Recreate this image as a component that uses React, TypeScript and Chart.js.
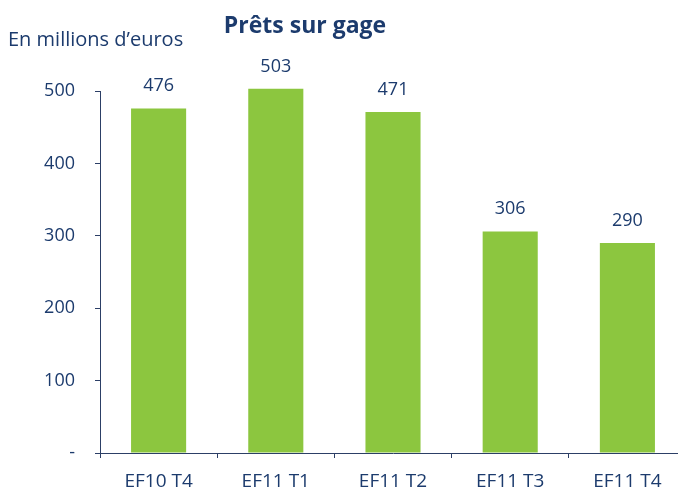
import React, { useEffect, useRef } from "react";
import { Chart, registerables } from "chart.js";

Chart.register(...registerables);

const categories = ["EF10 T4", "EF11 T1", "EF11 T2", "EF11 T3", "EF11 T4"];
const values = [476, 503, 471, 306, 290];
const yTicks = [0, 100, 200, 300, 400, 500];
const titleText = "Prêts sur gage";
const unitText = "En millions d\u2019euros";

const TEXT = "#1c3b6d";
const AXIS = "#2c3f66";
const GREEN = "#8cc63f";
const FONT = "'Open Sans', sans-serif";

export default function App() {
  const ref = useRef<HTMLCanvasElement | null>(null);
  useEffect(() => {
    if (!ref.current) return;
    const labelsPlugin = {
      id: "labelsPlugin",
      afterDraw(chart: any) {
        const ctx = chart.ctx;
        ctx.save();
        ctx.fillStyle = TEXT;
        ctx.textAlign = "center";
        ctx.textBaseline = "alphabetic";
        ctx.font = `18px ${FONT}`;
        const meta = chart.getDatasetMeta(0);
        meta.data.forEach((bar: any, i: number) => {
          ctx.fillText(String(values[i]), bar.x, bar.y - 17);
        });
        ctx.font = `bold 23px ${FONT}`;
        ctx.fillText(titleText, 305, 33);
        ctx.textAlign = "left";
        ctx.font = `20px ${FONT}`;
        ctx.fillText(unitText, 8, 46);
        ctx.restore();
      },
    };
    const chart = new Chart(ref.current, {
      type: "bar",
      data: {
        labels: categories,
        datasets: [
          {
            data: values,
            backgroundColor: GREEN,
            borderWidth: 0,
            barPercentage: 0.47,
            categoryPercentage: 1,
            clip: false as any,
          },
        ],
      },
      options: {
        responsive: false,
        animation: false,
        layout: { padding: { top: 91, right: 14, left: 0, bottom: 0 } },
        plugins: {
          legend: { display: false },
          tooltip: { enabled: false },
          title: { display: false },
        },
        scales: {
          x: {
            afterFit(scale: any) {
              scale.height = 37;
            },
            grid: {
              display: true,
              drawOnChartArea: false,
              drawTicks: true,
              tickLength: 5,
              color: AXIS,
              offset: true,
            },
            border: { display: true, color: AXIS, width: 1 },
            ticks: {
              color: TEXT,
              font: { family: FONT, size: 19 },
              padding: 12,
              maxRotation: 0,
            },
          },
          y: {
            min: 0,
            max: 500,
            afterFit(scale: any) {
              scale.width = 100;
            },
            afterBuildTicks(scale: any) {
              scale.ticks = yTicks.map((v) => ({ value: v }));
            },
            grid: {
              display: true,
              drawOnChartArea: false,
              drawTicks: true,
              tickLength: 5,
              color: AXIS,
            },
            border: { display: true, color: AXIS, width: 1 },
            ticks: {
              color: TEXT,
              font: { family: FONT, size: 18 },
              padding: 20,
              callback: (v: any) => (Number(v) === 0 ? "-" : String(v)),
            },
          },
        },
      },
      plugins: [labelsPlugin],
    });
    return () => chart.destroy();
  }, []);
  return (
    <div
      style={{
        position: "absolute",
        left: 0,
        top: 0,
        width: 678,
        height: 490,
        overflow: "hidden",
        background: "#fff",
      }}
    >
      <canvas ref={ref} width={700} height={490} style={{ display: "block" }} />
    </div>
  );
}
